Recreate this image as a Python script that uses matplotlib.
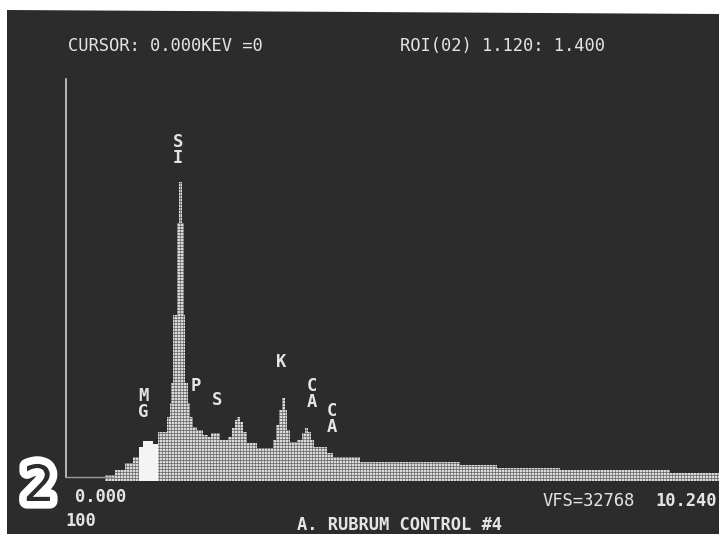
import numpy as np
import matplotlib
matplotlib.use("Agg")
import matplotlib.pyplot as plt
from matplotlib.patches import Polygon
import matplotlib.patheffects as pe

# ---------------- data ----------------
edges_kev = [0.595, 0.748, 0.901, 1.023, 1.12, 1.176, 1.328, 1.40, 1.542, 1.588,
             1.603, 1.634, 1.695, 1.725, 1.771, 1.802, 1.817, 1.863, 1.893, 1.939,
             2.000, 2.092, 2.168, 2.214, 2.351, 2.473, 2.534, 2.580, 2.611, 2.656,
             2.702, 2.763, 2.916, 3.160, 3.206, 3.252, 3.298, 3.344, 3.374, 3.420,
             3.527, 3.603, 3.649, 3.695, 3.740, 3.786, 3.985, 4.076, 4.489, 6.015,
             6.580, 7.542, 9.221, 9.97]
counts = [489, 897, 1467, 1956, 2771, 3260, 3016, 3994, 5216, 6357,
          7987, 13529, 21027, 24369, 21027, 13529, 7987, 6357, 5216, 4401,
          4157, 3749, 3586, 3912, 3342, 3586, 4320, 4972, 5216, 4809,
          3994, 3097, 2690, 3342, 4564, 5787, 6765, 5787, 4157, 3179,
          3342, 3912, 4320, 3994, 3342, 2771, 2282, 1956, 1549, 1300,
          1100, 900, 650]
roi_kev = (1.120, 1.400)
vfs = 32768
xmax_kev = 9.97

element_labels = ["S\nI", "P", "S", "M\nG", "K", "C\nA", "C\nA"]
element_pos_px = [(178, 150), (196, 386), (217, 400), (143, 404),
                  (281, 362), (312, 394), (332, 419)]

header_left = "CURSOR: 0.000KEV =0"
header_right = "ROI(02) 1.120: 1.400"
x_start_label = "0.000"
x_end_label = "10.240"
vfs_label = "VFS=32768"
scale_label = "100"
title = "A. RUBRUM CONTROL #4"
panel_number = "2"

# ---------------- figure ----------------
W, H = 719, 534
fig = plt.figure(figsize=(W / 100, H / 100), dpi=100, facecolor="white")

def fx(px):
    return px / W

def fy(py):
    return 1 - py / H

BG = "#2c2c2c"
TXT = "#e4e4e4"

# dark screen area (photo, white margins top/left)
screen = Polygon([(fx(7), fy(10)), (fx(719), fy(14)), (fx(719), fy(534)), (fx(7), fy(534))],
                 closed=True, transform=fig.transFigure, facecolor=BG, edgecolor="none",
                 zorder=-5)
fig.patches.append(screen)

# spectrum axes
ax = fig.add_axes([fx(66), fy(481), fx(719) - fx(66), fy(79) - fy(481)])
ax.set_zorder(2)
ax.set_xlim(0, xmax_kev)
ax.set_ylim(0, vfs)
ax.axis("off")
ax.patch.set_alpha(0)

edges = np.array(edges_kev)
vals = np.array(counts, dtype=float)

patch = ax.stairs(vals, edges, fill=True, facecolor="#dadada", edgecolor="none",
                  baseline=0, zorder=2)

# raster texture of the display
gy = np.arange(0, vfs, 245)
gx = np.arange(0, xmax_kev, 0.0458)
hl = ax.hlines(gy, 0, xmax_kev, colors="#505050", linewidth=0.45, zorder=3)
vl = ax.vlines(gx, 0, vfs, colors="#505050", linewidth=0.4, zorder=3)
hl.set_clip_path(patch)
vl.set_clip_path(patch)

# ROI highlighted (solid white)
lo_i = int(np.searchsorted(edges, roi_kev[0]))
hi_i = int(np.searchsorted(edges, roi_kev[1]))
ax.stairs(vals[lo_i:hi_i], edges[lo_i:hi_i + 1], fill=True, facecolor="#f4f4f4",
          edgecolor="none", zorder=4)

# axes lines
base_y = 4 * vfs / 402
ax.plot([0, 0], [base_y, vfs], color="#cfcfcf", lw=1.2, clip_on=False, zorder=5)
ax.plot([0, edges[0] + 0.1], [base_y, base_y], color="#9a9a9a", lw=1.0, clip_on=False,
        zorder=5)

mono = "DejaVu Sans Mono"
fs = 12.3

for lab, (px, py) in zip(element_labels, element_pos_px):
    fig.text(fx(px), fy(py), lab, family=mono, fontsize=fs, color=TXT, ha="center",
             va="center", linespacing=0.85, fontweight="bold")

fig.text(fx(68), fy(46), header_left, family=mono, fontsize=fs, color=TXT,
         ha="left", va="center")
fig.text(fx(400), fy(46), header_right, family=mono, fontsize=fs, color=TXT,
         ha="left", va="center")
fig.text(fx(75), fy(497), x_start_label, family=mono, fontsize=fs, color=TXT,
         ha="left", va="center", fontweight="bold")
fig.text(fx(65), fy(521), scale_label, family=mono, fontsize=fs, color=TXT,
         ha="left", va="center", fontweight="bold")
fig.text(fx(297), fy(525), title, family=mono, fontsize=fs, color=TXT,
         ha="left", va="center", fontweight="bold")
fig.text(fx(543), fy(501), vfs_label, family=mono, fontsize=fs, color=TXT,
         ha="left", va="center")
fig.text(fx(717), fy(501), x_end_label, family=mono, fontsize=fs, color=TXT,
         ha="right", va="center", fontweight="bold")

# panel number (white outlined numeral)
fig.text(fx(39), fy(487), panel_number, family="DejaVu Sans", fontsize=36,
         fontweight="normal", color=BG, ha="center", va="center",
         path_effects=[pe.Stroke(linewidth=11, foreground="white"), pe.Normal()])

fig.savefig("out.png", dpi=100, facecolor="white")
